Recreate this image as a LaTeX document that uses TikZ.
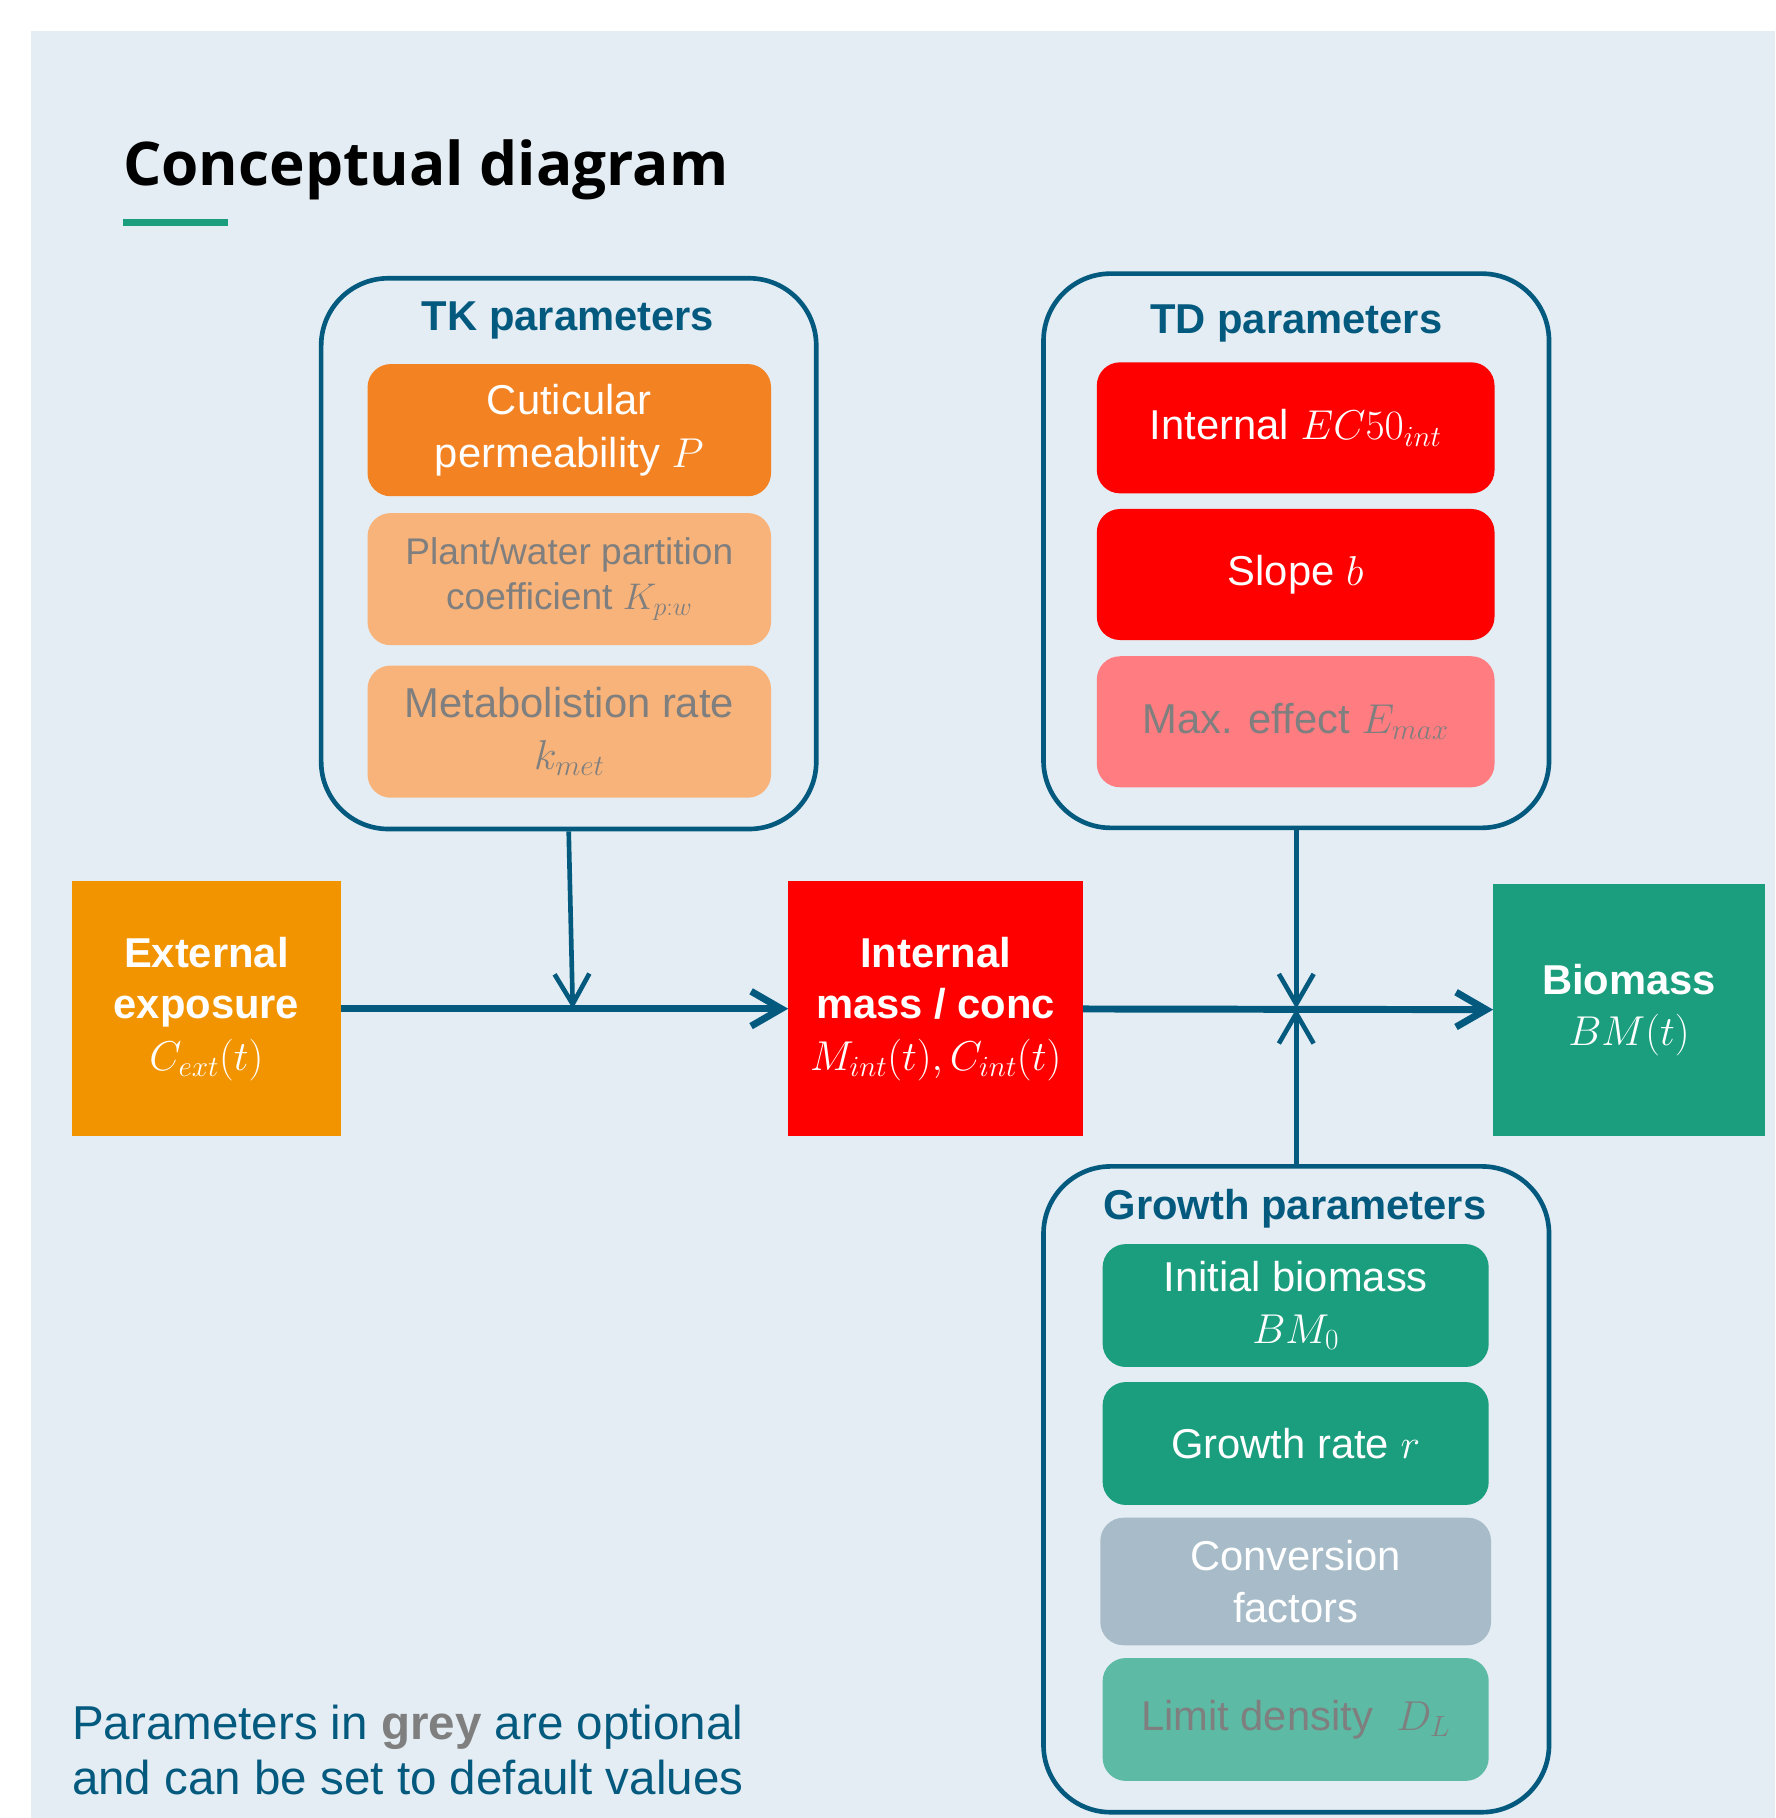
\RequirePackage{fix-cm}
\documentclass[tikz,border=0pt]{standalone}
\usepackage{fontspec}
\setmainfont{Liberation Sans}
\newfontfamily\titlefont{Open Sans}
\usetikzlibrary{arrows.meta}

\definecolor{bgblue}{HTML}{E4EDF3}
\definecolor{darkblue}{HTML}{045A7E}
\definecolor{expoorange}{HTML}{F29400}
\definecolor{tkorange}{HTML}{F38223}
\definecolor{tklight}{HTML}{F8B37A}
\definecolor{tdred}{HTML}{FF0000}
\definecolor{tdlight}{HTML}{FF7C80}
\definecolor{grgreen}{HTML}{1A9E7D}
\definecolor{grlight}{HTML}{5DBAA5}
\definecolor{convgrey}{HTML}{A7BCC8}
\definecolor{optgrey}{HTML}{7F7F7F}

\begin{document}
\begin{tikzpicture}[x=1pt, y=-1pt,
  group/.style={draw=darkblue, line width=4pt, rounded corners=58pt, inner sep=0pt},
  grouptitle/.style={anchor=base, text=darkblue, font=\bfseries\fontsize{36}{44}\selectfont},
  param/.style={rounded corners=20pt, inner sep=0pt, align=center,
                font=\fontsize{36}{45}\selectfont},
  tkpar/.style={param, minimum width=348pt, minimum height=114pt},
  tdpar/.style={param, minimum width=343pt, minimum height=113pt},
  grpar/.style={param, minimum width=333pt, minimum height=106pt},
  stock/.style={inner sep=0pt, align=center, text=white, minimum height=220pt,
                font=\bfseries\fontsize{36}{44.5}\selectfont},
  flow/.style={darkblue, line width=6pt, -{Straight Barb[length=26pt, width=30pt]}},
  link/.style={darkblue, line width=4pt, -{Straight Barb[length=26pt, width=30pt]}}
]
  \useasboundingbox (0,0) rectangle (1531,1568);
  \fill[bgblue] (27,27) rectangle (1531,1568);

  % Title
  \node[anchor=base west, inner sep=0pt, font=\titlefont\bfseries\fontsize{52}{62}\selectfont] (title) at (106,160) {Conceptual diagram};
  \fill[grgreen] (106,189) rectangle (197,195);

  % Parameter groups
  \node[group, minimum width=427pt, minimum height=475pt] (tk) at (490.5,477.5) {};
  \node[group, minimum width=436pt, minimum height=478pt] (td) at (1118,475) {};
  \node[group, minimum width=436pt, minimum height=557pt] (gr) at (1118,1284.5) {};

  \node[grouptitle] (tktitle) at (490,285) {TK parameters};
  \node[grouptitle] (tdtitle) at (1118,288) {TD parameters};
  \node[grouptitle] (grtitle) at (1117,1052) {Growth parameters};

  \node[tkpar, fill=tkorange, text=white] (perm) at (491,371) {Cuticular\\permeability $P$};
  \node[tkpar, fill=tklight, text=optgrey, font=\fontsize{32}{39}\selectfont] (kpw) at (491,499.5) {Plant/water partition\\coefficient $K_{p:w}$};
  \node[tkpar, fill=tklight, text=optgrey] (kmet) at (491,631) {Metabolistion rate\\$k_{met}$};

  \node[tdpar, fill=tdred, text=white] (ec50) at (1117.5,369) {Internal $EC50_{int}$};
  \node[tdpar, fill=tdred, text=white] (slope) at (1117.5,495.5) {Slope $b$};
  \node[tdpar, fill=tdlight, text=optgrey] (emax) at (1117.5,622.5) {Max. effect $E_{max}$};

  \node[grpar, fill=grgreen, text=white] (bm0) at (1117.5,1126) {Initial biomass\\$BM_0$};
  \node[grpar, fill=grgreen, text=white] (rate) at (1117.5,1245) {Growth rate $r$};
  \node[grpar, fill=convgrey, text=white, minimum width=337pt, minimum height=110pt] (conv) at (1117.5,1364) {Conversion\\factors};
  \node[grpar, fill=grlight, text=optgrey] (dl) at (1117.5,1483) {Limit density\ \ $D_L$};

  % Main chain
  \node[stock, fill=expoorange, minimum width=232pt] (ext) at (178,870) {External\\exposure\\$C_{ext}(t)$};
  \node[stock, fill=tdred, minimum width=254pt] (int) at (807,870) {Internal\\mass / conc\\$M_{int}(t), C_{int}(t)$};
  \node[stock, fill=grgreen, minimum width=234pt, minimum height=218pt] (bio) at (1405,871) {Biomass\\$BM(t)$};

  \coordinate (tkin) at (494,870);
  \coordinate (effect) at (1118,870);

  \draw[flow] (ext) -- (int);
  \draw[flow] (int) -- (bio);
  \draw[link] (tk.south) -- (tkin);
  \draw[link] (td.south) -- (effect);
  \draw[link] (gr.north) -- (effect);

  % Note
  \node[anchor=base west, inner sep=0pt, align=left, text=darkblue, font=\fontsize{41}{48}\selectfont] (note) at (62,1548)
    {Parameters in {\bfseries\color{optgrey}grey} are optional\\and can be set to default values};
\end{tikzpicture}
\end{document}
